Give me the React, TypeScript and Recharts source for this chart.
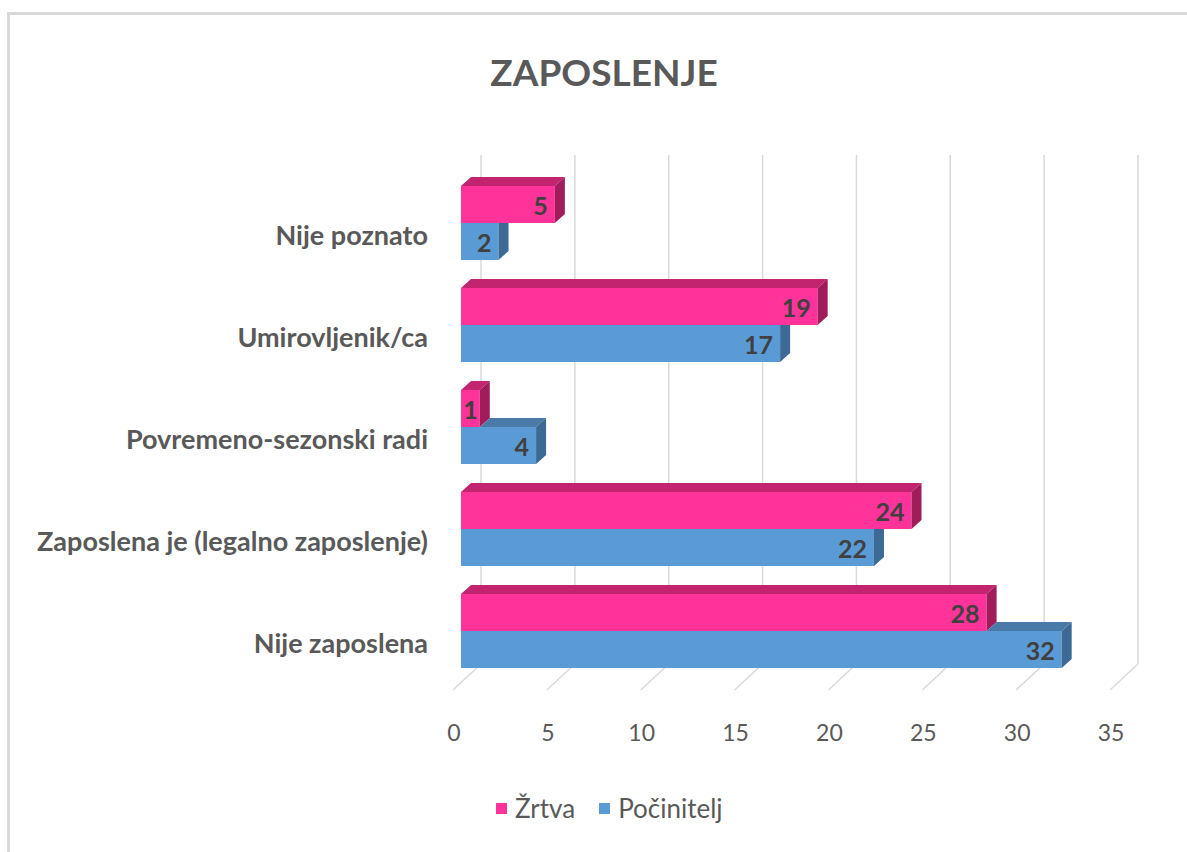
import React from "react";
import { BarChart, Bar, XAxis, YAxis, CartesianGrid, LabelList } from "recharts";

const categories = [
  "Nije poznato",
  "Umirovljenik/ca",
  "Povremeno-sezonski radi",
  "Zaposlena je (legalno zaposlenje)",
  "Nije zaposlena",
];
const zrtva = [5, 19, 1, 24, 28];
const pocinitelj = [2, 17, 4, 22, 32];
const xTicks = [0, 5, 10, 15, 20, 25, 30, 35];
const seriesNames = ["Žrtva", "Počinitelj"];
const seriesColors = ["#FF3399", "#5B9BD5"];
const title = "ZAPOSLENJE";

const data = categories.map((c, i) => ({ name: c, zrtva: zrtva[i], pocinitelj: pocinitelj[i] }));

const FONT = "Lato, 'Open Sans', sans-serif";
const DX = 10;
const DY = 9;

function PinkBar(props: any) {
  const { x, y, width, height } = props;
  if (!width || width <= 0) return null;
  const xe = x + width;
  return (
    <g>
      <rect x={x} y={y} width={width} height={height} fill="#FF3399" />
      <polygon points={`${x},${y} ${x + DX},${y - DY} ${xe + DX},${y - DY} ${xe},${y}`} fill="#C2246F" />
      <polygon
        points={`${xe},${y} ${xe + DX},${y - DY} ${xe + DX},${y + height - DY} ${xe},${y + height}`}
        fill="#A11C5B"
      />
    </g>
  );
}

function BlueBar(props: any) {
  const { x, y, width, height, payload } = props;
  if (!width || width <= 0) return null;
  const unit = width / payload.pocinitelj;
  const pw = payload.zrtva * unit;
  const xe = x + width;
  const xs = x + pw;
  return (
    <g>
      <rect x={x} y={y} width={width} height={height} fill="#5B9BD5" />
      {width > pw && (
        <polygon points={`${xs},${y} ${xs + DX},${y - DY} ${xe + DX},${y - DY} ${xe},${y}`} fill="#4A7BA8" />
      )}
      {pw >= width + DX ? (
        <polygon
          points={`${xe},${y} ${xe + DX},${y} ${xe + DX},${y + height - DY} ${xe},${y + height}`}
          fill="#3D6A94"
        />
      ) : (
        <polygon
          points={`${xe},${y} ${xe + DX},${y - DY} ${xe + DX},${y + height - DY} ${xe},${y + height}`}
          fill="#3D6A94"
        />
      )}
    </g>
  );
}

function ValueLabel(props: any) {
  const { x, y, width, height, value } = props;
  const small = width < 30;
  return (
    <text
      x={small ? x + width / 2 : x + width - 7}
      y={y + height / 2}
      textAnchor={small ? "middle" : "end"}
      dominantBaseline="central"
      fontFamily={FONT}
      fontWeight={700}
      fontSize={25}
      fill="#404040"
    >
      {value}
    </text>
  );
}

function GridLine(props: any) {
  const { x1, y1, y2 } = props;
  const bx = x1 + 20;
  const top = y1 - 17;
  const bot = y2 - 18;
  return (
    <g key={props.key}>
      <line x1={bx} y1={top} x2={bx} y2={bot} stroke="#D9D9D9" strokeWidth={1.5} />
      <line x1={bx} y1={bot} x2={x1 - 8} y2={y2 + 8} stroke="#D9D9D9" strokeWidth={1.5} />
    </g>
  );
}

function XTick(props: any) {
  const { x, y, payload } = props;
  return (
    <text x={x - 7} y={y + 59} textAnchor="middle" fontFamily={FONT} fontSize={23} fill="#595959">
      {payload.value}
    </text>
  );
}

function YTick(props: any) {
  const { x, y, payload } = props;
  return (
    <text
      x={x - 33}
      y={y + 11}
      textAnchor="end"
      dominantBaseline="central"
      fontFamily={FONT}
      fontWeight={700}
      fontSize={27}
      fill="#595959"
    >
      {payload.value}
    </text>
  );
}

export default function App() {
  return (
    <div
      style={{
        position: "fixed",
        left: 0,
        top: 0,
        width: 1187,
        height: 852,
        overflow: "hidden",
        background: "#fff",
        fontFamily: FONT,
      }}
    >
      <div
        style={{
          position: "absolute",
          left: 7,
          top: 12,
          width: 1300,
          height: 1000,
          borderLeft: "3px solid #D9D9D9",
          borderTop: "3px solid #D9D9D9",
        }}
      />
      <div
        style={{
          position: "absolute",
          left: 0,
          width: 1208,
          top: 53,
          textAlign: "center",
          fontSize: 37,
          lineHeight: 1,
          fontWeight: 700,
          color: "#595959",
        }}
      >
        {title}
      </div>
      <div style={{ position: "absolute", left: 0, top: 0 }}>
        <BarChart
          width={1187}
          height={852}
          data={data}
          layout="vertical"
          margin={{ top: 172, right: 69, bottom: 110, left: 0 }}
          barGap={0}
          barSize={37}
        >
          <CartesianGrid horizontal={false} vertical={GridLine as any} />
          <XAxis
            type="number"
            domain={[0, 35]}
            ticks={xTicks}
            axisLine={false}
            tickLine={false}
            tickSize={0}
            tickMargin={0}
            height={60}
            tick={XTick}
            interval={0}
          />
          <YAxis
            type="category"
            dataKey="name"
            width={461}
            axisLine={false}
            tickLine={false}
            tickSize={0}
            tickMargin={0}
            tick={YTick}
            interval={0}
          />
          <Bar dataKey="zrtva" name={seriesNames[0]} shape={PinkBar} isAnimationActive={false}>
            <LabelList dataKey="zrtva" content={ValueLabel} />
          </Bar>
          <Bar dataKey="pocinitelj" name={seriesNames[1]} shape={BlueBar} isAnimationActive={false}>
            <LabelList dataKey="pocinitelj" content={ValueLabel} />
          </Bar>
        </BarChart>
      </div>
      <div
        style={{
          position: "absolute",
          left: 496,
          top: 791,
          display: "flex",
          alignItems: "center",
          fontSize: 26,
          lineHeight: "34px",
          color: "#595959",
        }}
      >
        {seriesNames.map((n, i) => (
          <div key={n} style={{ display: "flex", alignItems: "center", marginRight: i === 0 ? 24 : 0 }}>
            <span
              style={{
                display: "inline-block",
                width: 11,
                height: 11,
                background: seriesColors[i],
                marginRight: 8,
              }}
            />
            <span>{n}</span>
          </div>
        ))}
      </div>
    </div>
  );
}
